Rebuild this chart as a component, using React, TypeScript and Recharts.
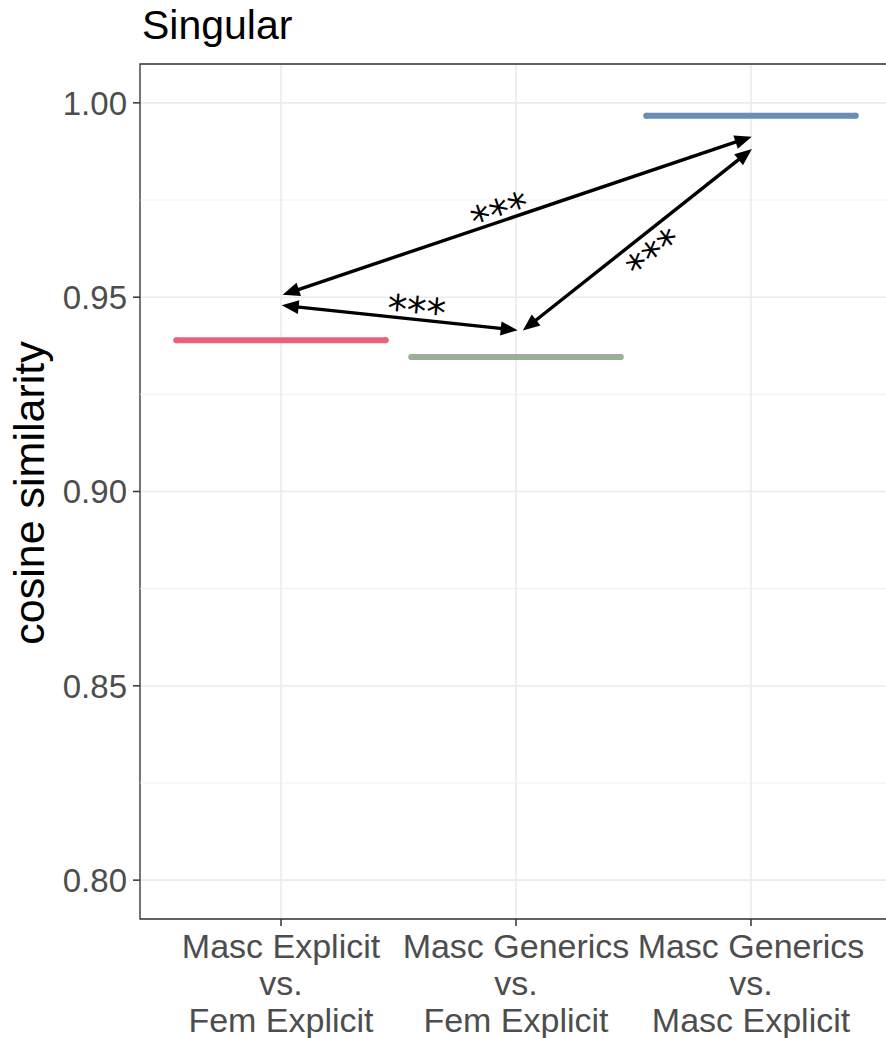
import React from "react";
import {
  CartesianGrid,
  ComposedChart,
  ErrorBar,
  ReferenceArea,
  ReferenceDot,
  ReferenceLine,
  Scatter,
  XAxis,
  YAxis,
} from "recharts";

// comparison groups on the x axis (discrete positions 1..3)
const positions = [1, 2, 3];
const labelLines = [
  ["Masc Explicit", "vs.", "Fem Explicit"],
  ["Masc Generics", "vs.", "Fem Explicit"],
  ["Masc Generics", "vs.", "Masc Explicit"],
];
const similarity = [0.9389, 0.9346, 0.9967];
const halfWidth = [0.445, 0.445, 0.445];
const colors = ["#E9627A", "#9CAE97", "#6A8DB4"];

const yTicks = [0.8, 0.85, 0.9, 0.95, 1.0];
const yMinor = [0.825, 0.875, 0.925, 0.975];

// significance arrows (double headed) and their stars
const arrowFrom = [
  { x: 1.007, y: 0.9506 },
  { x: 1.003, y: 0.9479 },
  { x: 2.029, y: 0.9414 },
];
const arrowTo = [
  { x: 3.003, y: 0.9913 },
  { x: 2.007, y: 0.9415 },
  { x: 3.004, y: 0.9881 },
];
const starX = [1.923, 1.579, 2.57];
const starY = [0.9735, 0.9485, 0.9625];
const starAngle = [-18.7, 5.4, -38];

const FONT = "'Liberation Sans', Arial, Helvetica, sans-serif";
const GRID = "#EBEBEB";
const DARK = "#333333";
const TEXT = "#4D4D4D";

const rows = positions.map((p, i) => ({
  x: p,
  y: similarity[i],
  err: halfWidth[i],
}));

function ArrowShape(props: any) {
  const { x1, y1, x2, y2 } = props;
  const dx = x2 - x1;
  const dy = y2 - y1;
  const len = Math.sqrt(dx * dx + dy * dy);
  const ux = dx / len;
  const uy = dy / len;
  const L = 17;
  const W = 7;
  const head = (tx: number, ty: number, dirx: number, diry: number) => {
    const bx = tx - dirx * L;
    const by = ty - diry * L;
    return `${tx},${ty} ${bx - diry * W},${by + dirx * W} ${bx + diry * W},${by - dirx * W}`;
  };
  return (
    <g>
      <line
        x1={x1 + ux * (L - 2)}
        y1={y1 + uy * (L - 2)}
        x2={x2 - ux * (L - 2)}
        y2={y2 - uy * (L - 2)}
        stroke="#000"
        strokeWidth={3.4}
      />
      <polygon points={head(x2, y2, ux, uy)} fill="#000" />
      <polygon points={head(x1, y1, -ux, -uy)} fill="#000" />
    </g>
  );
}

function starShape(angle: number) {
  return (props: any) => {
    const { cx, cy } = props;
    const fs = 39;
    return (
      <text
        x={cx}
        y={cy + fs * 0.55}
        textAnchor="middle"
        fontSize={fs}
        fontFamily="'DejaVu Sans', sans-serif"
        fill="#000"
        transform={`rotate(${angle}, ${cx}, ${cy})`}
      >
        ***
      </text>
    );
  };
}

function XTick(props: any) {
  const { x, y, payload } = props;
  const lines = labelLines[positions.indexOf(payload.value)] || [];
  return (
    <text x={x} textAnchor="middle" fontSize={34} fontFamily={FONT} fill={TEXT}>
      {lines.map((l, i) => (
        <tspan key={i} x={x} y={y + 32 + i * 37}>
          {l}
        </tspan>
      ))}
    </text>
  );
}

export default function App() {
  return (
    <div
      style={{
        position: "absolute",
        left: 0,
        top: 0,
        width: 886,
        height: 1038,
        overflow: "hidden",
        background: "#fff",
      }}
    >
      <ComposedChart
        width={900}
        height={1038}
        data={rows}
        margin={{ top: 64, right: 8, bottom: 0, left: 0 }}
      >
        <CartesianGrid stroke={GRID} strokeWidth={1.6} />
        <XAxis
          type="number"
          dataKey="x"
          domain={[0.4, 3.6]}
          allowDataOverflow
          ticks={positions}
          interval={0}
          height={119}
          axisLine={false}
          tickSize={7}
          tickMargin={0}
          tickLine={{ stroke: DARK, strokeWidth: 1.5 }}
          tick={<XTick />}
        />
        <YAxis
          type="number"
          dataKey="y"
          domain={[0.79, 1.01]}
          allowDataOverflow
          ticks={yTicks}
          interval={0}
          width={140}
          axisLine={false}
          tickSize={7}
          tickMargin={6}
          tickLine={{ stroke: DARK, strokeWidth: 1.5 }}
          tickFormatter={(v: number) => v.toFixed(2)}
          tick={{ fontSize: 33, fill: TEXT, fontFamily: FONT }}
        />
        {yMinor.map((v) => (
          <ReferenceLine key={v} y={v} stroke={GRID} strokeWidth={0.8} />
        ))}
        <ReferenceArea
          x1={0.4}
          x2={3.6}
          y1={0.79}
          y2={1.01}
          fill="none"
          fillOpacity={0}
          stroke={DARK}
          strokeWidth={1.3}
        />
        {rows.map((r, i) => (
          <Scatter
            key={`seg${i}`}
            data={[r]}
            dataKey="y"
            isAnimationActive={false}
            shape={() => <g />}
          >
            <ErrorBar
              dataKey="err"
              direction="x"
              width={0}
              stroke={colors[i]}
              strokeWidth={6}
              strokeLinecap="round"
              isAnimationActive={false}
            />
          </Scatter>
        ))}
        {arrowFrom.map((a, i) => (
          <ReferenceLine
            key={`arr${i}`}
            segment={[a, arrowTo[i]]}
            shape={ArrowShape}
          />
        ))}
        {starX.map((sx, i) => (
          <ReferenceDot
            key={`star${i}`}
            x={sx}
            y={starY[i]}
            r={0}
            shape={starShape(starAngle[i])}
          />
        ))}
      </ComposedChart>
      <svg
        width={886}
        height={1038}
        style={{ position: "absolute", left: 0, top: 0, pointerEvents: "none" }}
      >
        <text x={142} y={39} fontSize={41} fontFamily={FONT} fill="#000">
          Singular
        </text>
        <text
          x={44}
          y={493}
          fontSize={43}
          fontFamily={FONT}
          fill="#000"
          textAnchor="middle"
          transform="rotate(-90, 44, 493)"
        >
          cosine similarity
        </text>
      </svg>
    </div>
  );
}
